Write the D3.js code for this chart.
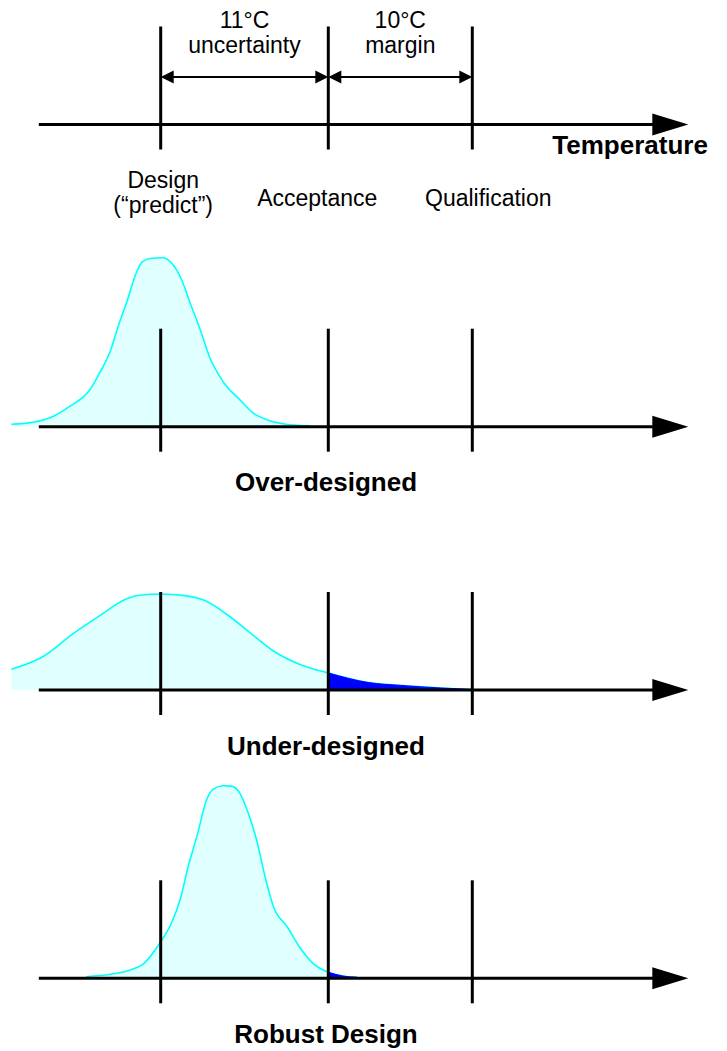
<!DOCTYPE html>
<html>
<head>
<meta charset="utf-8">
<script src="https://cdn.jsdelivr.net/npm/d3@7/dist/d3.min.js"></script>
<style>
  html, body { margin: 0; padding: 0; background: #fff; }
  svg { display: block; overflow: hidden; }
  text { font-family: "Liberation Sans", Arial, Helvetica, sans-serif; fill: #000; }
</style>
</head>
<body>
<svg id="chart" width="709" height="1051"></svg>
<script>
// ---------------- DATA ----------------
// Reference temperatures (°C relative to design prediction)
const refNames = ["Design", "Acceptance", "Qualification"];
const refTemps = [0, 11, 21];
const spanLabels = [["11°C", "uncertainty"], ["10°C", "margin"]];
const panelTitles = ["Over-designed", "Under-designed", "Robust Design"];

// Over-designed distribution (temperature °C, relative density)
const overT = [-9.8, -8.4, -7.1, -6.0, -4.6, -4.0, -3.3, -2.8, -2.2, -1.6, -1.2, -0.6, 0.1, 0.7, 1.4, 1.9, 2.6, 3.2, 4.1, 5.2, 6.1, 7.0, 8.0, 9.8];
const overD = [0.012, 0.022, 0.05, 0.10, 0.19, 0.27, 0.38, 0.50, 0.63, 0.77, 0.825, 0.842, 0.845, 0.82, 0.73, 0.625, 0.484, 0.35, 0.225, 0.134, 0.067, 0.034, 0.015, 0.004];

// Under-designed distribution
const underT = [-9.8, -7.8, -5.7, -4.15, -2.3, -1.4, 0.0, 1.6, 2.9, 4.4, 5.9, 7.4, 9.1, 11.0, 13.8, 16.0, 18.8, 21.0];
const underD = [0.104, 0.164, 0.284, 0.364, 0.454, 0.474, 0.48, 0.472, 0.447, 0.375, 0.284, 0.195, 0.129, 0.085, 0.037, 0.023, 0.010, 0.0025];

// Robust design distribution
const robustT = [-4.9, -3.3, -2.0, -1.1, 0.0, 0.7, 1.3, 1.8, 2.4, 3.0, 3.45, 4.1, 4.65, 5.2, 5.75, 6.3, 6.85, 7.4, 8.3, 9.1, 10.0, 11.0, 12.0, 13.0];
const robustD = [0.008, 0.02, 0.042, 0.075, 0.183, 0.275, 0.40, 0.558, 0.717, 0.89, 0.946, 0.963, 0.961, 0.925, 0.825, 0.69, 0.508, 0.358, 0.258, 0.158, 0.075, 0.03, 0.0115, 0.005];

// ---------------- LAYOUT ----------------
const svg = d3.select("#chart");
const x = d3.scaleLinear().domain(refTemps).range([160.7, 328.3, 472.3]);
const y = d3.scaleLinear().domain([0, 1]).range([0, -200]);
const baselines = [124.5, 426.7, 690, 978.3];
const axisStart = -8, axisEnd = 36;  // °C extent of the axis line (arrow tip)
const arrowLen = 36, arrowHalf = 11;

const black = "#000";
const fillCyan = "#E0FFFF", strokeCyan = "#00FFFF", blue = "#0000FF";

const distributions = [
  { t: overT, d: overD },
  { t: underT, d: underD },
  { t: robustT, d: robustD }
];

function drawAxis(g) {
  const x0 = x(axisStart), x1 = x(axisEnd);
  g.append("line").attr("x1", x0).attr("x2", x1 - arrowLen + 2)
    .attr("y1", 0).attr("y2", 0).attr("stroke", black).attr("stroke-width", 3);
  g.append("path")
    .attr("d", `M${x1 - arrowLen},${-arrowHalf} L${x1},0 L${x1 - arrowLen},${arrowHalf} Z`)
    .attr("fill", black);
  g.selectAll("line.ref").data(refTemps).enter().append("line")
    .attr("class", "ref")
    .attr("x1", d => x(d)).attr("x2", d => x(d))
    .attr("y1", -98).attr("y2", 25)
    .attr("stroke", black).attr("stroke-width", 3);
}

// ---------- Top panel ----------
const topG = svg.append("g").attr("transform", `translate(0,${baselines[0]})`);

// dimension arrows
const dimY = -47.5;
function dimArrow(g, a, b) {
  const xa = x(a), xb = x(b), hl = 13, hw = 6.5;
  g.append("line").attr("x1", xa + hl - 1).attr("x2", xb - hl + 1)
    .attr("y1", dimY).attr("y2", dimY).attr("stroke", black).attr("stroke-width", 2);
  g.append("path").attr("d", `M${xa},${dimY} L${xa + hl},${dimY - hw} L${xa + hl},${dimY + hw} Z`).attr("fill", black);
  g.append("path").attr("d", `M${xb},${dimY} L${xb - hl},${dimY - hw} L${xb - hl},${dimY + hw} Z`).attr("fill", black);
}
dimArrow(topG, refTemps[0], refTemps[1]);
dimArrow(topG, refTemps[1], refTemps[2]);

spanLabels.forEach((lab, i) => {
  const cx = x((refTemps[i] + refTemps[i + 1]) / 2);
  const t = topG.append("text").attr("text-anchor", "middle").attr("font-size", 23);
  t.append("tspan").attr("x", cx).attr("y", -96.5).text(lab[0]);
  t.append("tspan").attr("x", cx).attr("y", -71.5).text(lab[1]);
});

drawAxis(topG);

topG.append("text").attr("x", x(axisEnd) - 136).attr("y", 29.5)
  .attr("font-size", 26).attr("font-weight", "bold").text("Temperature");

// reference names
const nameOffsets = [2.5, -11, 16];
const designLbl = topG.append("text").attr("text-anchor", "middle").attr("font-size", 23);
designLbl.append("tspan").attr("x", x(refTemps[0]) + nameOffsets[0]).attr("y", 63.5).text(refNames[0]);
designLbl.append("tspan").attr("x", x(refTemps[0]) + nameOffsets[0]).attr("y", 88.5).text("(\u201Cpredict\u201D)");
[1, 2].forEach(i => {
  topG.append("text").attr("text-anchor", "middle").attr("font-size", 23)
    .attr("x", x(refTemps[i]) + nameOffsets[i]).attr("y", 81)
    .text(refNames[i]);
});

// ---------- Distribution panels ----------
const area = d3.area().x(p => x(p[0])).y0(0).y1(p => y(p[1])).curve(d3.curveMonotoneX);
const line = d3.line().x(p => x(p[0])).y(p => y(p[1])).curve(d3.curveMonotoneX);

distributions.forEach((dist, i) => {
  const g = svg.append("g").attr("transform", `translate(0,${baselines[i + 1]})`);
  const pts = dist.t.map((t, k) => [t, dist.d[k]]);
  g.append("path").attr("d", area(pts)).attr("fill", fillCyan);
  g.append("path").attr("d", line(pts)).attr("fill", "none")
    .attr("stroke", strokeCyan).attr("stroke-width", 1.6);
  const tail = pts.filter(p => p[0] >= refTemps[1]);
  if (tail.length > 1) {
    g.append("path").attr("d", area(tail)).attr("fill", blue)
      .attr("stroke", blue).attr("stroke-width", 1);
  }
  drawAxis(g);
  g.append("text").attr("text-anchor", "middle").attr("font-size", 26).attr("font-weight", "bold")
    .attr("x", 326).attr("y", 64.5).text(panelTitles[i]);
});
</script>
</body>
</html>
